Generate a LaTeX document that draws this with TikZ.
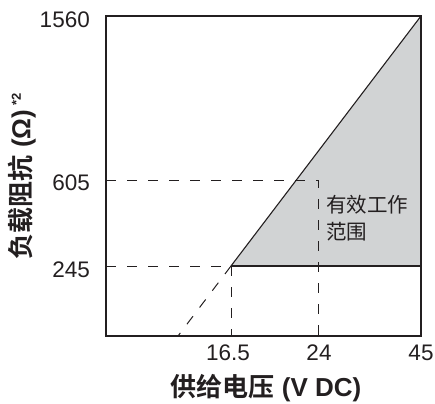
\documentclass[tikz,border=0pt]{standalone}
\usepackage{fontspec}
\setmainfont{Liberation Sans}
\newfontfamily\cjk[BoldFont={Noto Sans CJK SC Bold}]{Noto Sans CJK SC}
\definecolor{ink}{HTML}{231F20}
\definecolor{zone}{HTML}{D1D3D4}

\begin{document}
\begin{tikzpicture}[x=1pt, y=-1pt,
    frame/.style={draw=ink, line width=2.4pt},
    guide/.style={draw=ink, line width=1pt, dash pattern=on 10pt off 11pt},
    limit/.style={draw=ink, line width=1.1pt},
    tick/.style={font=\fontsize{22.5}{26}\selectfont, text=ink, inner sep=0pt},
    axistitle/.style={font=\fontsize{26}{30}\selectfont\bfseries, text=ink, inner sep=0pt},
    zonelabel/.style={font=\cjk\fontsize{20.5}{27}\selectfont, text=ink, align=left, inner sep=0pt}]

    \useasboundingbox (0,0) rectangle (435,403);

    % frame corners
    \coordinate (tl)   at (106,16);
    \coordinate (br)   at (421,336);
    % curve points
    \coordinate (knee) at (231,266);
    \coordinate (top)  at (421,16);
    \coordinate (r245) at (421,266);
    \coordinate (foot) at (178,336);
    % guide ends
    \coordinate (y605) at (106,180);
    \coordinate (y245) at (106,266);
    \coordinate (x24)  at (318,336);
    \coordinate (x165) at (231,336);

    % operating area
    \fill[zone] (knee) -- (top) -- (r245) -- cycle;

    \draw[guide] (y605) -| (x24);
    \draw[guide] (y245) -- (knee);
    \draw[guide] (knee) -- (x165);
    \draw[guide] (knee) -- (foot);

    \draw[limit] (knee) -- (top);
    \draw[limit] (knee) -- (r245);

    \draw[frame] (tl) rectangle (br);

    % tick labels
    \node[tick, anchor=east] (l1560) at (90,20)  {1560};
    \node[tick, anchor=east] (l605)  at (90,183) {605};
    \node[tick, anchor=east] (l245)  at (90,270) {245};
    \node[tick] (l165) at (228,353) {16.5};
    \node[tick] (l24)  at (319,353) {24};
    \node[tick] (l45)  at (421,353) {45};

    \node[zonelabel, anchor=north west] (zone) at (326,195) {有效工作\\范围};

    % axis titles
    \node[axistitle] (xtitle) at (266,388) {{\cjk 供给电压} (V DC)};
    \node[axistitle, rotate=90] (ytitle) at (22,176)
        {{\cjk 负载阻抗} (Ω)\,\raisebox{0.7ex}{\fontsize{13}{15}\selectfont *2}};

\end{tikzpicture}
\end{document}
